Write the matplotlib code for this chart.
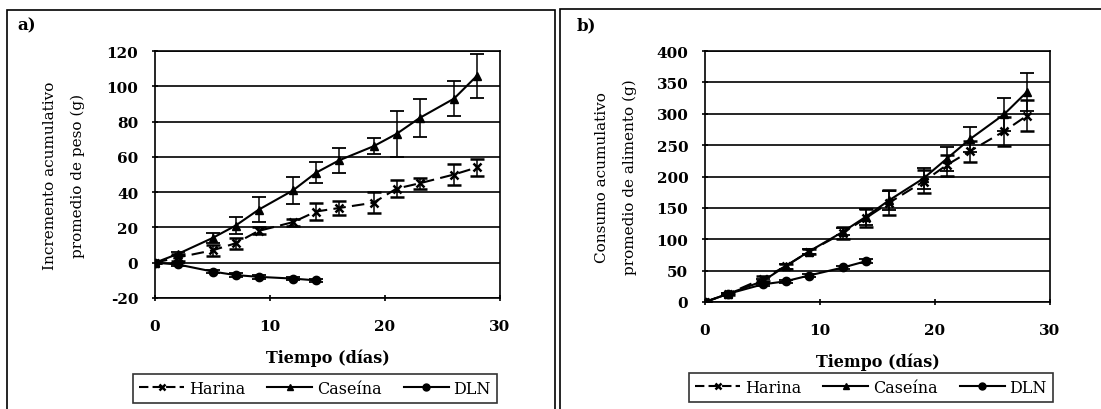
import matplotlib.pyplot as plt
import matplotlib.patches as mpatches
from matplotlib.lines import Line2D
import numpy as np

plt.rcParams['font.family'] = ['DejaVu Serif']
plt.rcParams['axes.unicode_minus'] = False

# dias de medicion
dias = [0, 2, 5, 7, 9, 12, 14, 16, 19, 21, 23, 26, 28]
dias_dln = [0, 2, 5, 7, 9, 12, 14]

# a) incremento acumulativo de peso (g)
peso_harina = [0, 3, 7, 11, 18, 23, 29, 31, 34, 42, 45, 50, 54]
peso_harina_err = [0, 2, 3, 3, 2, 2, 5, 4, 6, 5, 3, 6, 5]
peso_caseina = [0, 5, 14, 21, 30, 41, 51, 58, 66, 73, 82, 93, 106]
peso_caseina_err = [0, 1, 3, 5, 7, 7.5, 6, 7, 4.5, 13, 11, 10, 12.5]
peso_dln = [0, -1, -5, -7, -8, -9, -10]
peso_dln_err = [0, 1, 1, 1, 1, 1, 1]

# b) consumo acumulativo de alimento (g)
cons_harina = [0, 13, 37, 57, 80, 110, 134, 158, 192, 218, 240, 272, 297]
cons_harina_err = [0, 2, 4, 4, 4, 10, 14, 20, 18, 17, 17, 23, 25]
cons_caseina = [0, 13, 33, 57, 80, 112, 136, 162, 197, 228, 259, 299, 335]
cons_caseina_err = [0, 2, 4, 4, 4, 6, 13, 15, 17, 19, 20, 26, 30]
cons_dln = [0, 13, 28, 33, 42, 55, 65]
cons_dln_err = [0, 2, 2, 2, 2, 2, 3]

W, H = 1101, 410
fig = plt.figure(figsize=(W / 100, H / 100), dpi=100)

# marcos de cada panel
fig.patches.append(mpatches.Rectangle((7 / W, -0.05), (555 - 7) / W, 1 - 11 / H + 0.05,
                                      transform=fig.transFigure, fill=False, ec='black', lw=1.2))
fig.patches.append(mpatches.Rectangle((560 / W, -0.05), 0.6, 1 - 10 / H + 0.05,
                                      transform=fig.transFigure, fill=False, ec='black', lw=1.2))

dash = (0, (6, 3))


def panel(rect, yh, yh_e, yc, yc_e, yd, yd_e, ylim, step, ylabel, label_x, leg_rect, letra, letra_x):
    ax = fig.add_axes(rect)
    kw = dict(color='black', ecolor='black', elinewidth=1.1, capsize=5, capthick=1.3,
              lw=1.5, ms=6)
    ax.errorbar(dias, yh, yerr=yh_e, marker='x', mew=1.8, ls=dash, **kw)
    ax.errorbar(dias, yc, yerr=yc_e, marker='^', ls='-', **kw)
    ax.errorbar(dias_dln, yd, yerr=yd_e, marker='o', ls='-', **kw)
    ax.set_xlim(0, 30)
    ax.set_ylim(*ylim)
    ax.set_xticks([0, 10, 20, 30])
    ax.set_yticks(np.arange(ylim[0], ylim[1] + 1, step))
    ax.yaxis.grid(True, color='black', lw=1.2)
    ax.set_axisbelow(True)
    for s in ax.spines.values():
        s.set_linewidth(1.2)
    ax.tick_params(axis='y', length=4, width=1.2, pad=10, labelsize=11, direction='inout')
    ax.tick_params(axis='x', length=4, width=1.2, pad=13, labelsize=11, direction='inout')
    for t in ax.get_xticklabels() + ax.get_yticklabels():
        t.set_fontweight('bold')
    ax.set_xlabel('Tiempo (días)', fontsize=11.5, fontweight='bold', labelpad=11)
    fig.text(label_x / W, (rect[1] + rect[3] / 2), ylabel, rotation=90, ha='center', va='center',
             fontsize=11, linespacing=2.2)
    fig.text(letra_x / W, 1 - 26 / H, letra, fontsize=12, fontweight='bold', ha='left', va='center')
    handles = [Line2D([], [], color='black', lw=1.5, ls=(0, (4.5, 2)), marker='x', ms=5, mew=1.8),
               Line2D([], [], color='black', lw=1.5, marker='^', ms=5),
               Line2D([], [], color='black', lw=1.5, marker='o', ms=5)]
    leg = ax.legend(handles, ['Harina', 'Caseína', 'DLN'], loc='center',
                    bbox_to_anchor=leg_rect, bbox_transform=fig.transFigure,
                    ncol=3, frameon=True, fancybox=False, edgecolor='black', fontsize=11.5,
                    handlelength=2.8, handletextpad=0.3, columnspacing=1.4, borderpad=0.4)
    leg.get_frame().set_linewidth(1.2)
    return ax


panel([155 / W, 1 - 299 / H, 345 / W, 247 / H],
      peso_harina, peso_harina_err, peso_caseina, peso_caseina_err, peso_dln, peso_dln_err,
      (-20, 120), 20, 'Incremento acumulativo\npromedio de peso (g)', 64,
      (133 / W, 1 - 407 / H, 364 / W, 35 / H), 'a)', 17)

panel([705 / W, 1 - 303 / H, 345 / W, 251 / H],
      cons_harina, cons_harina_err, cons_caseina, cons_caseina_err, cons_dln, cons_dln_err,
      (0, 400), 50, 'Consumo acumulativo\npromedio de alimento (g)', 616,
      (695 / W, 1 - 405 / H, 352 / W, 33 / H), 'b)', 577)

fig.savefig('out.png', dpi=100)
